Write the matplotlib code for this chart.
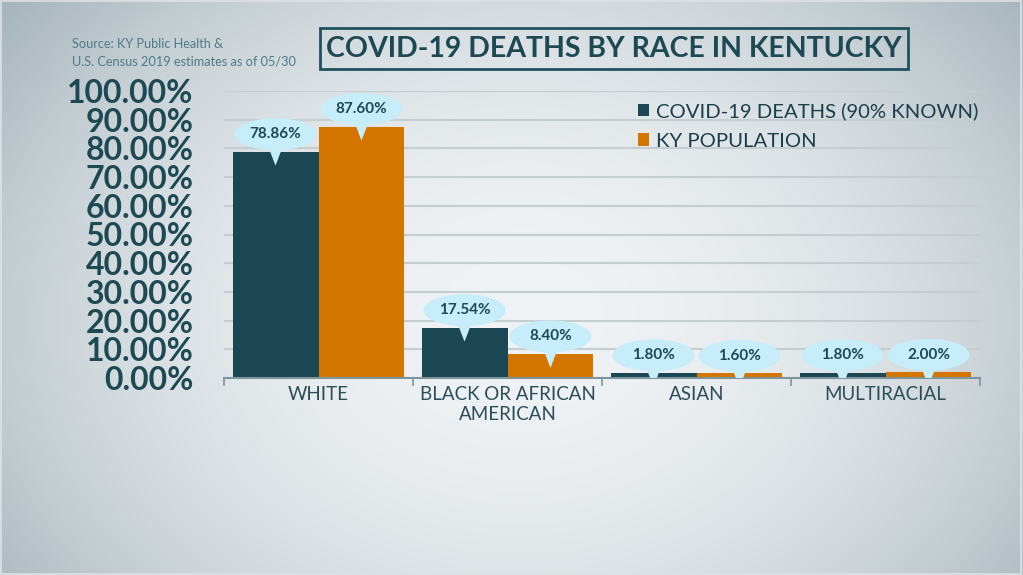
import numpy as np
import matplotlib
matplotlib.use("Agg")
import matplotlib.pyplot as plt
from matplotlib.patches import Ellipse, Polygon, Rectangle, Patch

# --- data ---
categories = ["WHITE", "BLACK OR AFRICAN\nAMERICAN", "ASIAN", "MULTIRACIAL"]
deaths = [78.86, 17.54, 1.80, 1.80]
population = [87.60, 8.40, 1.60, 2.00]
series_names = ["COVID-19 DEATHS (90% KNOWN)", "KY POPULATION"]
y_ticks = [0, 10, 20, 30, 40, 50, 60, 70, 80, 90, 100]

TEAL = "#1b4653"
ORANGE = "#d47500"
TEXT = "#1d4955"
BUBBLE = "#c6edf9"
FONT = "Lato"

plt.rcParams["font.family"] = [FONT, "DejaVu Sans"]

fig = plt.figure(figsize=(10.23, 5.75), dpi=100)

# background vignette
bg = fig.add_axes([0, 0, 1, 1], zorder=-10)
yy, xx = np.mgrid[0:575, 0:1023]
r = np.sqrt(((xx - 520) / 720.0) ** 2 + ((yy - 320) / 560.0) ** 2)
t = np.clip(r, 0, 1) ** 2.0
c0 = np.array([0xf0, 0xf3, 0xf5]) / 255.0
c1 = np.array([0x98, 0xa8, 0xb0]) / 255.0
img = c0[None, None, :] * (1 - t[..., None]) + c1[None, None, :] * t[..., None]
bg.imshow(img, aspect="auto", extent=[0, 1, 0, 1], origin="upper")
bg.axis("off")
fig.patches.append(Rectangle((0.001, 0.002), 0.997, 0.996, transform=fig.transFigure,
                             facecolor="none", edgecolor="#dde2e5", linewidth=1.2))

ax = fig.add_axes([224 / 1023, 197 / 575, 756 / 1023, 287 / 575])
ax.set_facecolor("none")

x = np.arange(len(categories))
w = 0.455
ax.bar(x - w / 2, deaths, w, color=TEAL, zorder=3, label=series_names[0])
ax.bar(x + w / 2, population, w, color=ORANGE, zorder=3, label=series_names[1])

ax.set_xlim(-0.5, len(categories) - 0.5)
ax.set_ylim(0, 100)

# callout bubbles
px_x = 756 / 4.0   # pixels per category
px_y = 287 / 100.0  # pixels per percent
ew, eh = 82 / px_x, 32 / px_y
for xs, vals in [(x - w / 2, deaths), (x + w / 2, population)]:
    for xc, v in zip(xs, vals):
        cy = v + 17.5 / px_y
        ax.add_patch(Ellipse((xc, cy), ew, eh, facecolor=BUBBLE, edgecolor="none",
                             zorder=5, clip_on=False))
        base = cy - eh / 2 + 1.5 / px_y
        hw = 6.5 / px_x
        ax.add_patch(Polygon([(xc - hw, base), (xc + hw, base), (xc, v - 14 / px_y)],
                             closed=True, facecolor=BUBBLE, edgecolor="none", zorder=5))
        ax.text(xc, cy, f"{v:.2f}%", ha="center", va="center", fontsize=11,
                fontweight="bold", color=TEXT, zorder=6)

# axes styling
for s in ["top", "right", "left"]:
    ax.spines[s].set_visible(False)
ax.spines["bottom"].set_color("#7f959e")
ax.spines["bottom"].set_linewidth(1.5)
ax.spines["bottom"].set_zorder(4)

ax.set_yticks(y_ticks)
ax.set_yticklabels([f"{v:.2f}%" for v in y_ticks], fontsize=23, fontweight="bold", color=TEXT)
ax.tick_params(axis="y", length=0, pad=22)
ax.grid(axis="y", color="#c6cdd1", linewidth=1.5, zorder=0)

ax.set_xticks(np.arange(len(categories) + 1) - 0.5)
ax.set_xticklabels([])
ax.tick_params(axis="x", which="major", length=6, width=1.2, color="#7f959e", direction="out")
ax.set_xticks(x, minor=True)
ax.set_xticklabels(categories, minor=True, fontsize=13.5, color="#2b4d58", linespacing=1.2)
ax.tick_params(axis="x", which="minor", length=0, pad=6)

# legend
handles = [Patch(facecolor=TEAL), Patch(facecolor=ORANGE)]
fig.legend(handles, series_names, loc="upper left", bbox_to_anchor=(628 / 1023, 1 - 92 / 575),
           frameon=False, fontsize=14.6, handlelength=0.55, handleheight=0.55,
           handletextpad=0.35, labelspacing=0.62, borderpad=0, labelcolor="#1b3f4a")

# title box
fig.patches.append(Rectangle((320 / 1023, 1 - 69 / 575), 588 / 1023, 41 / 575,
                             transform=fig.transFigure, facecolor="none",
                             edgecolor="#1f5260", linewidth=2))
fig.text(614 / 1023, 1 - 49 / 575, "COVID-19 DEATHS BY RACE IN KENTUCKY", ha="center",
         va="center", fontsize=20.5, fontweight="bold", color=TEXT)

# source
fig.text(72 / 1023, 1 - 38 / 575, "Source: KY Public Health &\nU.S. Census 2019 estimates as of 05/30",
         ha="left", va="top", fontsize=9.2, color="#4d7b86", linespacing=1.5)

fig.savefig("out.png", dpi=100)
